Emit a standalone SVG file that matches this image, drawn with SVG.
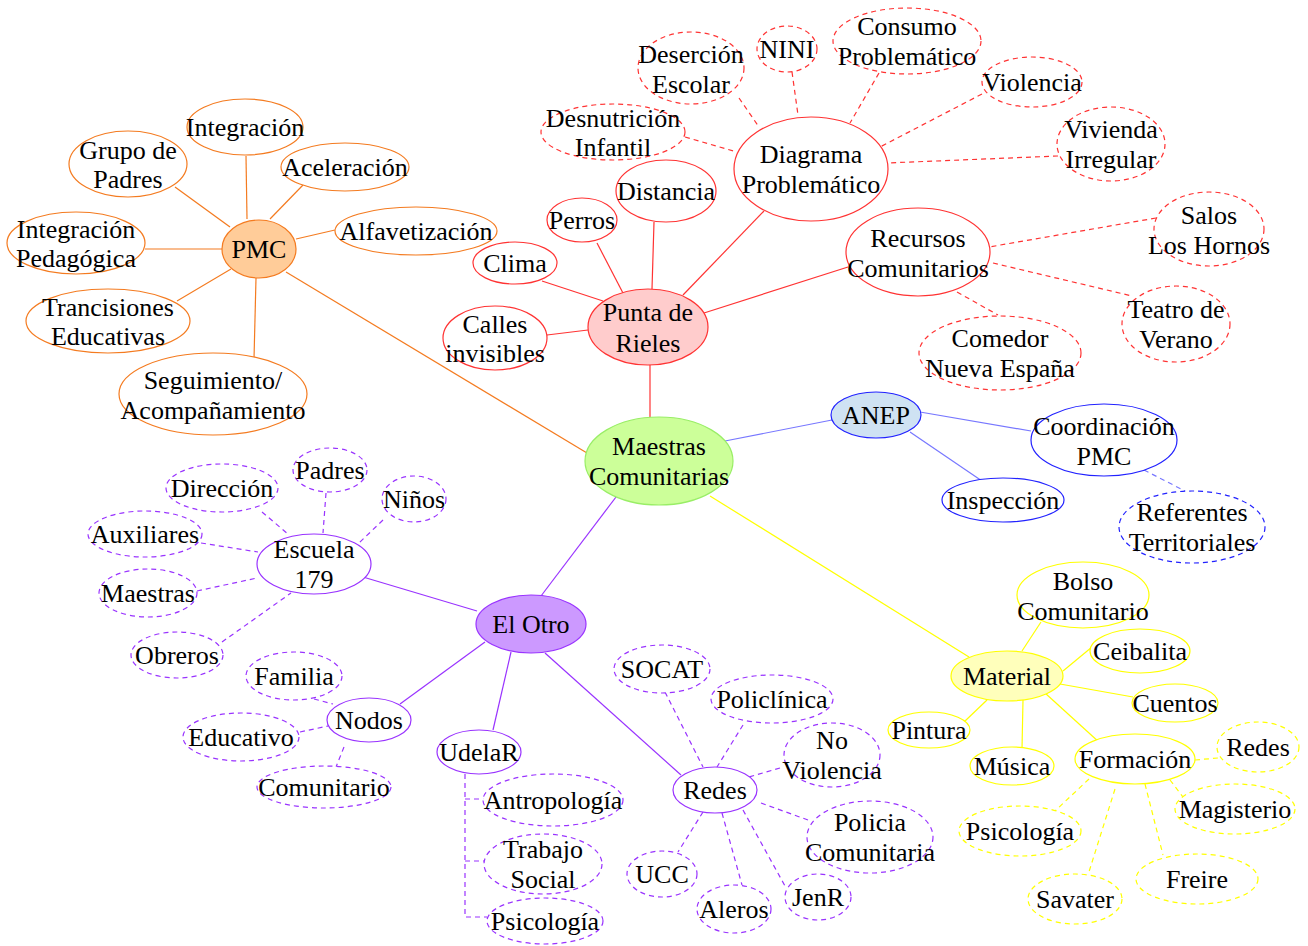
<svg xmlns="http://www.w3.org/2000/svg" width="1308" height="946" viewBox="0 0 1308 946">
<style>
text{font-family:"Liberation Serif","Times New Roman",serif;font-size:26px;fill:#000;text-anchor:middle}
ellipse{fill:#fff;stroke-width:1.2}
line,polyline{stroke-width:1.2;fill:none}
.d{stroke-dasharray:5,4}
.o{stroke:#f47b20}
.r{stroke:#ff3333}
.b{stroke:#2222ff}
.bl{stroke:#7777ff}
.p{stroke:#9933ff}
.y{stroke:#ffff00}
.g{stroke:#99ee66}
</style>
<rect width="1308" height="946" fill="#fff"/>
<g id="connectors">
<!-- PMC -->
<line class="o" x1="286" y1="272" x2="592" y2="456"/>
<line class="o" x1="246" y1="156" x2="247" y2="219"/>
<line class="o" x1="175" y1="187" x2="230" y2="227"/>
<line class="o" x1="303" y1="185" x2="270" y2="219"/>
<line class="o" x1="335" y1="230" x2="296" y2="239"/>
<line class="o" x1="145" y1="249" x2="222" y2="249"/>
<line class="o" x1="177" y1="301" x2="231" y2="269"/>
<line class="o" x1="256" y1="278" x2="254" y2="359"/>
<!-- Punta de Rieles -->
<line class="r" x1="650" y1="365" x2="650" y2="417"/>
<line class="r" x1="542" y1="281" x2="603" y2="301"/>
<line class="r" x1="597" y1="243" x2="624" y2="295"/>
<line class="r" x1="654" y1="222" x2="652" y2="289"/>
<line class="r" x1="764" y1="211" x2="683" y2="295"/>
<line class="r" x1="547" y1="335" x2="588" y2="330"/>
<line class="r" x1="704" y1="313" x2="848" y2="267"/>
<line class="r d" x1="739" y1="98" x2="759" y2="127"/>
<line class="r d" x1="792" y1="72" x2="798" y2="115"/>
<line class="r d" x1="685" y1="137" x2="737" y2="152"/>
<line class="r d" x1="879" y1="73" x2="850" y2="123"/>
<line class="r d" x1="982" y1="94" x2="880" y2="147"/>
<line class="r d" x1="1058" y1="156" x2="887" y2="163"/>
<line class="r d" x1="1156" y1="218" x2="989" y2="247"/>
<line class="r d" x1="993" y1="263" x2="1132" y2="296"/>
<line class="r d" x1="957" y1="292" x2="998" y2="315"/>
<!-- ANEP -->
<line class="bl" x1="725" y1="441" x2="832" y2="420"/>
<line class="bl" x1="920" y1="412" x2="1031" y2="431"/>
<line class="bl" x1="910" y1="432" x2="982" y2="481"/>
<line class="bl d" x1="1144" y1="470" x2="1185" y2="491"/>
<!-- El Otro -->
<line class="p" x1="616" y1="497" x2="541" y2="596"/>
<line class="p" x1="363" y1="577" x2="477" y2="611"/>
<line class="p" x1="400" y1="704" x2="485" y2="642"/>
<line class="p" x1="493" y1="730" x2="511" y2="652"/>
<line class="p" x1="545" y1="653" x2="681" y2="775"/>
<line class="p d" x1="262" y1="512" x2="288" y2="534"/>
<line class="p d" x1="326" y1="493" x2="323" y2="533"/>
<line class="p d" x1="383" y1="520" x2="359" y2="543"/>
<line class="p d" x1="201" y1="543" x2="258" y2="552"/>
<line class="p d" x1="197" y1="591" x2="257" y2="578"/>
<line class="p d" x1="222" y1="642" x2="291" y2="593"/>
<line class="p d" x1="314" y1="699" x2="333" y2="704"/>
<line class="p d" x1="300" y1="732" x2="328" y2="726"/>
<line class="p d" x1="344" y1="747" x2="336" y2="767"/>
<polyline class="p d" points="465,774 465,917 487,917"/>
<polyline class="p d" points="465,799 484,799"/>
<polyline class="p d" points="465,861 486,861"/>
<line class="p d" x1="665" y1="692" x2="703" y2="767"/>
<line class="p d" x1="743" y1="725" x2="717" y2="767"/>
<line class="p d" x1="780" y1="768" x2="749" y2="777"/>
<line class="p d" x1="761" y1="803" x2="808" y2="820"/>
<line class="p d" x1="743" y1="810" x2="785" y2="886"/>
<line class="p d" x1="722" y1="813" x2="742" y2="885"/>
<line class="p d" x1="703" y1="812" x2="678" y2="852"/>
<!-- Material -->
<line class="y" x1="710" y1="496" x2="969" y2="657"/>
<line class="y" x1="1022" y1="651" x2="1041" y2="622"/>
<line class="y" x1="1063" y1="671" x2="1092" y2="647"/>
<line class="y" x1="1060" y1="684" x2="1133" y2="697"/>
<line class="y" x1="987" y1="700" x2="964" y2="722"/>
<line class="y" x1="1023" y1="700" x2="1022" y2="749"/>
<line class="y" x1="1045" y1="693" x2="1100" y2="743"/>
<line class="y d" x1="1195" y1="760" x2="1218" y2="758"/>
<line class="y d" x1="1170" y1="780" x2="1183" y2="797"/>
<line class="y d" x1="1089" y1="779" x2="1055" y2="811"/>
<line class="y d" x1="1115" y1="789" x2="1088" y2="875"/>
<line class="y d" x1="1145" y1="784" x2="1163" y2="855"/>
</g>

<g id="n-maestras"><ellipse cx="659" cy="461" rx="74" ry="44" style="fill:#ccff99" class="g"/><text x="659" y="455">Maestras</text><text x="659" y="485">Comunitarias</text></g>

<g id="n-pmc"><ellipse cx="259" cy="249" rx="37" ry="29" style="fill:#ffcc99" class="o"/><text x="259" y="258">PMC</text></g>
<g id="n-integracion"><ellipse cx="245" cy="127" rx="58" ry="28" class="o"/><text x="245" y="136">Integración</text></g>
<g id="n-grupo"><ellipse cx="128" cy="164" rx="59" ry="33" class="o"/><text x="128" y="159">Grupo de</text><text x="128" y="188">Padres</text></g>
<g id="n-aceleracion"><ellipse cx="345" cy="167" rx="64" ry="24" class="o"/><text x="345" y="176">Aceleración</text></g>
<g id="n-alfa"><ellipse cx="416" cy="231" rx="81" ry="24" class="o"/><text x="416" y="240">Alfavetización</text></g>
<g id="n-intped"><ellipse cx="76" cy="243" rx="69" ry="31" class="o"/><text x="76" y="238">Integración</text><text x="76" y="267">Pedagógica</text></g>
<g id="n-tranc"><ellipse cx="108" cy="321" rx="82" ry="32" class="o"/><text x="108" y="316">Trancisiones</text><text x="108" y="345">Educativas</text></g>
<g id="n-seg"><ellipse cx="213" cy="394" rx="94" ry="41" class="o"/><text x="213" y="389">Seguimiento/</text><text x="213" y="419">Acompañamiento</text></g>

<g id="n-punta"><ellipse cx="648" cy="327" rx="60" ry="38" style="fill:#ffcccc" class="r"/><text x="648" y="321">Punta de</text><text x="648" y="352">Rieles</text></g>
<g id="n-clima"><ellipse cx="515" cy="263" rx="42" ry="21" class="r"/><text x="515" y="272">Clima</text></g>
<g id="n-perros"><ellipse cx="582" cy="220" rx="35" ry="22" class="r"/><text x="582" y="229">Perros</text></g>
<g id="n-distancia"><ellipse cx="666" cy="191" rx="50" ry="31" class="r"/><text x="666" y="200">Distancia</text></g>
<g id="n-calles"><ellipse cx="495" cy="338" rx="52" ry="32" class="r"/><text x="495" y="333">Calles</text><text x="495" y="362">invisibles</text></g>
<g id="n-diagrama"><ellipse cx="811" cy="169" rx="77" ry="52" class="r"/><text x="811" y="163">Diagrama</text><text x="811" y="193">Problemático</text></g>
<g id="n-recursos"><ellipse cx="918" cy="252" rx="72" ry="44" class="r"/><text x="918" y="247">Recursos</text><text x="918" y="277">Comunitarios</text></g>
<g id="n-desercion"><ellipse cx="691" cy="68" rx="53" ry="36" class="r d"/><text x="691" y="63">Deserción</text><text x="691" y="93">Escolar</text></g>
<g id="n-nini"><ellipse cx="787" cy="49" rx="30" ry="23" class="r d"/><text x="787" y="58">NINI</text></g>
<g id="n-consumo"><ellipse cx="907" cy="41" rx="74" ry="33" class="r d"/><text x="907" y="35">Consumo</text><text x="907" y="65">Problemático</text></g>
<g id="n-violencia"><ellipse cx="1032" cy="82" rx="50" ry="25" class="r d"/><text x="1032" y="91">Violencia</text></g>
<g id="n-vivienda"><ellipse cx="1111" cy="144" rx="54" ry="37" class="r d"/><text x="1111" y="138">Vivienda</text><text x="1111" y="168">Irregular</text></g>
<g id="n-desnutricion"><ellipse cx="613" cy="132" rx="72" ry="28" class="r d"/><text x="613" y="127">Desnutrición</text><text x="613" y="156">Infantil</text></g>
<g id="n-salos"><ellipse cx="1209" cy="229" rx="55" ry="37" class="r d"/><text x="1209" y="224">Salos</text><text x="1209" y="254">Los Hornos</text></g>
<g id="n-teatro"><ellipse cx="1176" cy="324" rx="54" ry="38" class="r d"/><text x="1176" y="318">Teatro de</text><text x="1176" y="348">Verano</text></g>
<g id="n-comedor"><ellipse cx="1000" cy="353" rx="81" ry="37" class="r d"/><text x="1000" y="347">Comedor</text><text x="1000" y="377">Nueva España</text></g>

<g id="n-anep"><ellipse cx="876" cy="415" rx="45" ry="23" style="fill:#cfe2f3" class="b"/><text x="876" y="424">ANEP</text></g>
<g id="n-coord"><ellipse cx="1104" cy="440" rx="73" ry="36" class="b"/><text x="1104" y="435">Coordinación</text><text x="1104" y="465">PMC</text></g>
<g id="n-inspeccion"><ellipse cx="1003" cy="500" rx="61" ry="22" class="b"/><text x="1003" y="509">Inspección</text></g>
<g id="n-referentes"><ellipse cx="1192" cy="527" rx="73" ry="36" class="b d"/><text x="1192" y="521">Referentes</text><text x="1192" y="551">Territoriales</text></g>

<g id="n-elotro"><ellipse cx="531" cy="624" rx="55" ry="29" style="fill:#cc99ff" class="p"/><text x="531" y="633">El Otro</text></g>
<g id="n-escuela"><ellipse cx="314" cy="564" rx="57" ry="30" class="p"/><text x="314" y="558">Escuela</text><text x="314" y="588">179</text></g>
<g id="n-padres"><ellipse cx="330" cy="470" rx="37" ry="22" class="p d"/><text x="330" y="479">Padres</text></g>
<g id="n-direccion"><ellipse cx="222" cy="488" rx="56" ry="24" class="p d"/><text x="222" y="497">Dirección</text></g>
<g id="n-ninos"><ellipse cx="414" cy="499" rx="32" ry="23" class="p d"/><text x="414" y="508">Niños</text></g>
<g id="n-auxiliares"><ellipse cx="145" cy="534" rx="57" ry="23" class="p d"/><text x="145" y="543">Auxiliares</text></g>
<g id="n-maestras2"><ellipse cx="148" cy="593" rx="49" ry="24" class="p d"/><text x="148" y="602">Maestras</text></g>
<g id="n-obreros"><ellipse cx="177" cy="655" rx="46" ry="23" class="p d"/><text x="177" y="664">Obreros</text></g>
<g id="n-nodos"><ellipse cx="369" cy="720" rx="42" ry="22" class="p"/><text x="369" y="729">Nodos</text></g>
<g id="n-familia"><ellipse cx="294" cy="676" rx="48" ry="24" class="p d"/><text x="294" y="685">Familia</text></g>
<g id="n-educativo"><ellipse cx="241" cy="737" rx="58" ry="24" class="p d"/><text x="241" y="746">Educativo</text></g>
<g id="n-comunitario"><ellipse cx="324" cy="787" rx="67" ry="21" class="p d"/><text x="324" y="796">Comunitario</text></g>
<g id="n-udelar"><ellipse cx="479" cy="752" rx="42" ry="22" class="p"/><text x="479" y="761">UdelaR</text></g>
<g id="n-antropologia"><ellipse cx="553" cy="800" rx="70" ry="26" class="p d"/><text x="553" y="809">Antropología</text></g>
<g id="n-trabajo"><ellipse cx="543" cy="864" rx="59" ry="30" class="p d"/><text x="543" y="858">Trabajo</text><text x="543" y="888">Social</text></g>
<g id="n-psico1"><ellipse cx="545" cy="921" rx="58" ry="23" class="p d"/><text x="545" y="930">Psicología</text></g>
<g id="n-redes"><ellipse cx="715" cy="790" rx="42" ry="23" class="p"/><text x="715" y="799">Redes</text></g>
<g id="n-socat"><ellipse cx="662" cy="669" rx="48" ry="24" class="p d"/><text x="662" y="678">SOCAT</text></g>
<g id="n-policlinica"><ellipse cx="772" cy="699" rx="61" ry="24" class="p d"/><text x="772" y="708">Policlínica</text></g>
<g id="n-noviolencia"><ellipse cx="832" cy="755" rx="48" ry="32" class="p d"/><text x="832" y="749">No</text><text x="832" y="779">Violencia</text></g>
<g id="n-policia"><ellipse cx="870" cy="837" rx="63" ry="36" class="p d"/><text x="870" y="831">Policia</text><text x="870" y="861">Comunitaria</text></g>
<g id="n-jenr"><ellipse cx="818" cy="897" rx="33" ry="23" class="p d"/><text x="818" y="906">JenR</text></g>
<g id="n-aleros"><ellipse cx="734" cy="909" rx="37" ry="24" class="p d"/><text x="734" y="918">Aleros</text></g>
<g id="n-ucc"><ellipse cx="662" cy="874" rx="35" ry="23" class="p d"/><text x="662" y="883">UCC</text></g>

<g id="n-material"><ellipse cx="1007" cy="676" rx="56" ry="25" style="fill:#ffffbb" class="y"/><text x="1007" y="685">Material</text></g>
<g id="n-bolso"><ellipse cx="1083" cy="595" rx="66" ry="33" class="y"/><text x="1083" y="590">Bolso</text><text x="1083" y="620">Comunitario</text></g>
<g id="n-ceibalita"><ellipse cx="1140" cy="651" rx="50" ry="22" class="y"/><text x="1140" y="660">Ceibalita</text></g>
<g id="n-cuentos"><ellipse cx="1175" cy="703" rx="43" ry="19" class="y"/><text x="1175" y="712">Cuentos</text></g>
<g id="n-pintura"><ellipse cx="929" cy="730" rx="41" ry="18" class="y"/><text x="929" y="739">Pintura</text></g>
<g id="n-musica"><ellipse cx="1012" cy="766" rx="42" ry="19" class="y"/><text x="1012" y="775">Música</text></g>
<g id="n-formacion"><ellipse cx="1135" cy="759" rx="60" ry="25" class="y"/><text x="1135" y="768">Formación</text></g>
<g id="n-redes2"><ellipse cx="1258" cy="747" rx="41" ry="25" class="y d"/><text x="1258" y="756">Redes</text></g>
<g id="n-magisterio"><ellipse cx="1235" cy="809" rx="60" ry="25" class="y d"/><text x="1235" y="818">Magisterio</text></g>
<g id="n-psico2"><ellipse cx="1020" cy="831" rx="61" ry="25" class="y d"/><text x="1020" y="840">Psicología</text></g>
<g id="n-freire"><ellipse cx="1197" cy="879" rx="61" ry="25" class="y d"/><text x="1197" y="888">Freire</text></g>
<g id="n-savater"><ellipse cx="1075" cy="899" rx="47" ry="25" class="y d"/><text x="1075" y="908">Savater</text></g>
</svg>
